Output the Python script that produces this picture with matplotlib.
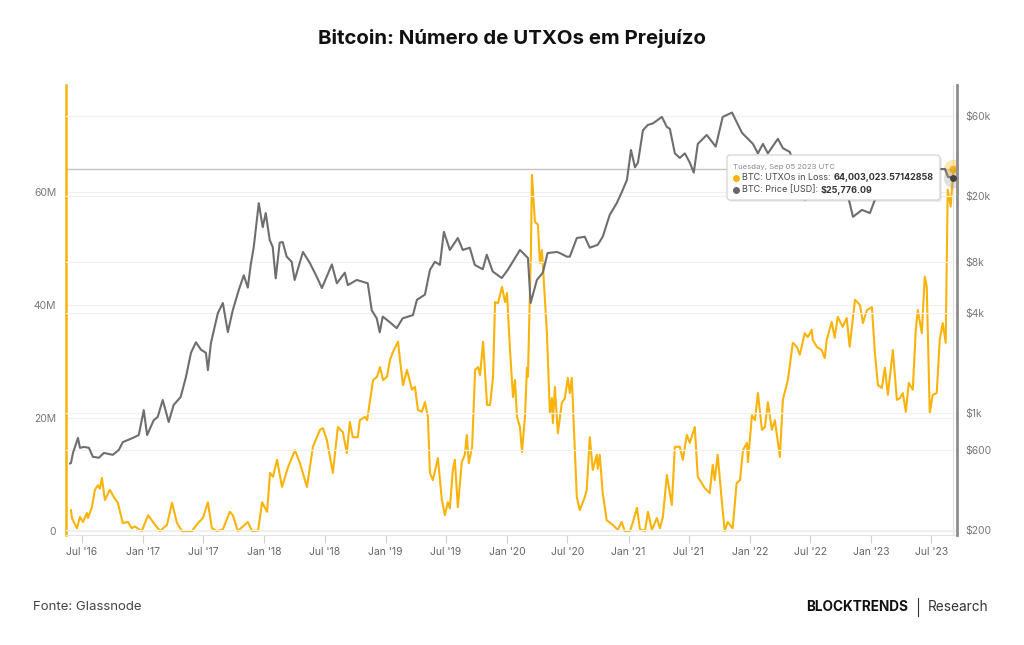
import matplotlib
matplotlib.use('Agg')
import matplotlib.pyplot as plt
import matplotlib.dates as mdates
import pandas as pd
from matplotlib.patches import FancyBboxPatch
from matplotlib.lines import Line2D
from matplotlib.transforms import IdentityTransform

plt.rcParams['font.family'] = ['Inter', 'DejaVu Sans']

# UTXOs in loss (millions)
utxo_dates = [
    '2016-05-29', '2016-06-01', '2016-06-07', '2016-06-16', '2016-06-25', '2016-07-04', '2016-07-16',
    '2016-07-19', '2016-07-31', '2016-08-09', '2016-08-18', '2016-08-24', '2016-08-30', '2016-09-08',
    '2016-09-23', '2016-10-05', '2016-10-17', '2016-11-01', '2016-11-16', '2016-11-28', '2016-12-07',
    '2016-12-28', '2017-01-16', '2017-02-06', '2017-02-21', '2017-03-14', '2017-03-29', '2017-04-13',
    '2017-04-28', '2017-05-28', '2017-06-15', '2017-06-30', '2017-07-15', '2017-07-27', '2017-08-11',
    '2017-08-29', '2017-09-19', '2017-09-28', '2017-10-13', '2017-11-12', '2017-11-25', '2017-12-13',
    '2017-12-25', '2018-01-09', '2018-01-18', '2018-01-27', '2018-02-08', '2018-02-23', '2018-03-13',
    '2018-04-03', '2018-04-18', '2018-05-09', '2018-05-27', '2018-06-17', '2018-06-26', '2018-07-08',
    '2018-07-26', '2018-08-10', '2018-08-25', '2018-09-06', '2018-09-15', '2018-09-24', '2018-10-09',
    '2018-10-15', '2018-10-31', '2018-11-06', '2018-11-24', '2018-12-06', '2018-12-15', '2018-12-24',
    '2019-01-05', '2019-01-14', '2019-01-23', '2019-02-07', '2019-02-13', '2019-02-22', '2019-03-06',
    '2019-03-21', '2019-03-30', '2019-04-08', '2019-04-20', '2019-04-29', '2019-05-08', '2019-05-14',
    '2019-05-23', '2019-06-07', '2019-06-19', '2019-06-28', '2019-07-07', '2019-07-13', '2019-07-22',
    '2019-07-28', '2019-08-06', '2019-08-18', '2019-08-27', '2019-09-02', '2019-09-08', '2019-09-18',
    '2019-09-27', '2019-10-06', '2019-10-12', '2019-10-21', '2019-11-02', '2019-11-11', '2019-11-20',
    '2019-11-26', '2019-12-05', '2019-12-17', '2019-12-26', '2020-01-01', '2020-01-10', '2020-01-19',
    '2020-01-25', '2020-01-31', '2020-02-09', '2020-02-15', '2020-02-24', '2020-03-01', '2020-03-04',
    '2020-03-13', '2020-03-16', '2020-03-25', '2020-04-03', '2020-04-09', '2020-04-15', '2020-04-18',
    '2020-04-30', '2020-05-09', '2020-05-15', '2020-05-18', '2020-05-24', '2020-06-02', '2020-06-14',
    '2020-06-23', '2020-07-02', '2020-07-08', '2020-07-14', '2020-07-29', '2020-08-07', '2020-08-22',
    '2020-08-28', '2020-09-06', '2020-09-15', '2020-09-27', '2020-09-30', '2020-10-06', '2020-10-15',
    '2020-10-27', '2020-11-14', '2020-11-29', '2020-12-11', '2020-12-20', '2021-01-05', '2021-01-14',
    '2021-01-26', '2021-02-04', '2021-02-19', '2021-02-28', '2021-03-12', '2021-03-27', '2021-04-05',
    '2021-04-14', '2021-04-26', '2021-05-11', '2021-05-20', '2021-06-04', '2021-06-13', '2021-06-25',
    '2021-07-04', '2021-07-19', '2021-07-28', '2021-08-18', '2021-09-02', '2021-09-11', '2021-09-17',
    '2021-09-26', '2021-10-08', '2021-10-17', '2021-10-26', '2021-11-10', '2021-11-22', '2021-12-02',
    '2021-12-11', '2021-12-23', '2021-12-26', '2022-01-07', '2022-01-16', '2022-01-25', '2022-02-06',
    '2022-02-15', '2022-02-24', '2022-03-08', '2022-03-17', '2022-04-01', '2022-04-10', '2022-04-25',
    '2022-05-10', '2022-05-22', '2022-05-31', '2022-06-15', '2022-06-24', '2022-07-06', '2022-07-09',
    '2022-07-21', '2022-08-05', '2022-08-14', '2022-08-20', '2022-09-04', '2022-09-13', '2022-09-22',
    '2022-10-07', '2022-10-19', '2022-10-28', '2022-11-13', '2022-11-28', '2022-12-07', '2022-12-19',
    '2023-01-03', '2023-01-12', '2023-01-21', '2023-02-02', '2023-02-11', '2023-02-20', '2023-03-07',
    '2023-03-19', '2023-03-28', '2023-04-06', '2023-04-15', '2023-04-24', '2023-05-06', '2023-05-15',
    '2023-05-21', '2023-06-02', '2023-06-11', '2023-06-17', '2023-06-26', '2023-07-05', '2023-07-17',
    '2023-07-26', '2023-08-04', '2023-08-13', '2023-08-19', '2023-08-28', '2023-09-05',
]
utxo_vals = [
    3.7, 2.3, 1.5, 0.5, 2.5, 1.6, 3.2,
    2.3, 4.2, 7.3, 8.1, 7.5, 9.4, 5.5,
    7.3, 6.0, 5.0, 1.4, 1.6, 0.5, 0.8,
    0.0, 2.8, 1.1, 0.0, 1.1, 5.0, 1.4,
    0.0, 0.0, 1.4, 2.3, 5.1, 0.5, 0.0,
    0.3, 3.4, 2.8, 0.0, 1.6, 0.0, 0.1,
    5.1, 3.4, 10.3, 9.6, 12.6, 7.8, 11.3,
    14.3, 12.0, 7.8, 14.9, 17.9, 18.2, 16.1,
    10.3, 18.4, 17.5, 13.8, 19.3, 16.6, 16.6,
    19.6, 20.2, 19.6, 26.7, 27.3, 29.0, 26.7,
    27.3, 30.3, 31.7, 33.5, 30.3, 25.8, 28.5,
    25.0, 25.5, 21.4, 21.1, 22.8, 20.2, 10.3,
    9.0, 12.9, 5.5, 2.8, 5.1, 4.0, 10.8,
    12.6, 4.2, 12.2, 13.5, 17.0, 12.0, 14.9,
    28.5, 29.0, 27.6, 33.5, 22.3, 22.3, 27.3,
    40.5, 40.3, 43.2, 40.5, 42.1, 32.0, 23.7,
    26.7, 20.2, 18.4, 14.0, 20.2, 28.9, 27.3,
    49.7, 63.0, 54.7, 54.2, 47.4, 49.7, 47.0,
    35.0, 20.9, 23.5, 19.1, 25.5, 17.3, 22.7,
    23.5, 27.1, 24.4, 27.1, 6.0, 3.7, 6.0,
    7.3, 16.6, 10.8, 13.5, 11.0, 13.5, 6.7,
    1.9, 1.1, 0.2, 1.6, 0.0, 0.0, 1.6,
    4.1, 0.3, 0.0, 3.4, 0.2, 2.3, 0.5,
    2.5, 9.9, 4.6, 14.9, 14.9, 12.6, 17.0,
    15.6, 18.4, 9.6, 7.6, 6.7, 11.7, 9.0,
    13.5, 5.5, 0.0, 1.6, 0.5, 8.5, 9.0,
    14.3, 15.6, 12.2, 20.5, 19.6, 24.4, 17.9,
    18.4, 22.8, 17.9, 19.6, 13.1, 23.2, 26.7,
    33.3, 32.6, 31.2, 35.0, 34.3, 35.6, 33.8,
    32.6, 32.0, 30.6, 33.8, 37.0, 34.2, 37.9,
    36.1, 37.7, 32.6, 40.9, 40.0, 36.8, 39.1,
    39.6, 31.5, 25.8, 25.3, 28.9, 24.1, 32.0,
    23.2, 23.5, 24.4, 21.1, 26.2, 25.0, 35.6,
    39.1, 35.0, 45.0, 43.2, 20.9, 24.1, 24.4,
    33.8, 36.8, 33.3, 60.4, 57.4, 64.0,
]

# BTC price (USD)
price_dates = [
    '2016-05-26', '2016-05-29', '2016-06-04', '2016-06-19', '2016-06-25', '2016-07-07', '2016-07-22',
    '2016-08-03', '2016-08-21', '2016-09-05', '2016-10-02', '2016-10-20', '2016-11-01', '2016-12-01',
    '2016-12-19', '2017-01-03', '2017-01-13', '2017-02-02', '2017-02-14', '2017-03-01', '2017-03-19',
    '2017-04-03', '2017-04-24', '2017-05-10', '2017-05-25', '2017-06-09', '2017-06-24', '2017-07-09',
    '2017-07-15', '2017-07-24', '2017-08-14', '2017-08-29', '2017-09-13', '2017-09-28', '2017-10-16',
    '2017-10-31', '2017-11-12', '2017-11-21', '2017-11-30', '2017-12-15', '2017-12-27', '2018-01-05',
    '2018-01-17', '2018-01-26', '2018-02-04', '2018-02-16', '2018-02-25', '2018-03-09', '2018-03-24',
    '2018-04-02', '2018-04-27', '2018-05-18', '2018-06-08', '2018-06-23', '2018-07-23', '2018-08-07',
    '2018-08-31', '2018-09-09', '2018-10-06', '2018-11-08', '2018-11-20', '2018-12-05', '2018-12-14',
    '2018-12-23', '2019-01-14', '2019-02-03', '2019-02-21', '2019-03-24', '2019-04-05', '2019-04-29',
    '2019-05-14', '2019-05-29', '2019-06-13', '2019-06-25', '2019-07-13', '2019-08-06', '2019-08-21',
    '2019-09-11', '2019-09-26', '2019-10-20', '2019-11-01', '2019-11-19', '2019-12-16', '2020-01-03',
    '2020-02-09', '2020-03-04', '2020-03-12', '2020-03-31', '2020-04-18', '2020-05-02', '2020-05-30',
    '2020-06-08', '2020-06-29', '2020-07-08', '2020-07-29', '2020-08-22', '2020-09-06', '2020-09-30',
    '2020-10-15', '2020-11-05', '2020-11-26', '2020-12-11', '2020-12-27', '2021-01-08', '2021-01-20',
    '2021-01-29', '2021-02-13', '2021-02-28', '2021-03-15', '2021-04-11', '2021-04-26', '2021-05-05',
    '2021-05-20', '2021-06-04', '2021-06-19', '2021-07-04', '2021-07-16', '2021-07-28', '2021-08-24',
    '2021-09-20', '2021-10-11', '2021-11-08', '2021-12-08', '2022-01-10', '2022-01-25', '2022-02-09',
    '2022-02-24', '2022-03-26', '2022-04-10', '2022-05-01', '2022-05-16', '2022-06-16', '2022-07-10',
    '2022-07-31', '2022-08-30', '2022-09-29', '2022-10-23', '2022-11-07', '2022-12-04', '2022-12-28',
    '2023-01-12', '2023-01-27', '2023-02-26', '2023-03-13', '2023-03-28', '2023-04-27', '2023-05-21',
    '2023-06-12', '2023-07-27', '2023-08-11', '2023-08-20', '2023-09-05',
]
price_vals = [
    500, 503, 578, 711, 620, 628, 620,
    548, 541, 578, 563, 603, 671, 711,
    740, 1043, 740, 908, 950, 1200, 886,
    1120, 1250, 1650, 2300, 2660, 2400, 2300,
    1810, 2630, 3980, 4570, 3060, 4150, 5480,
    6700, 5650, 7780, 9900, 18100, 13000, 15800,
    10900, 9900, 6420, 10500, 10600, 8660, 8070,
    6280, 9240, 7920, 6530, 5620, 7780, 6000,
    6940, 5850, 6280, 6000, 4130, 3700, 3050,
    3790, 3500, 3230, 3700, 3870, 4780, 5130,
    7200, 8070, 7730, 12200, 9500, 11200, 9500,
    9800, 7730, 7280, 8900, 7060, 6450, 7200,
    9500, 8500, 4570, 6280, 6960, 9100, 9240,
    9100, 8660, 8660, 11200, 11400, 9800, 10200,
    11400, 15400, 18100, 21000, 25000, 37700, 29700,
    31700, 49500, 53300, 54400, 59500, 51800, 50500,
    36000, 33800, 36000, 31700, 27600, 41000, 46400,
    39500, 59500, 63200, 47800, 41000, 36000, 41000,
    36000, 44000, 38700, 36700, 30000, 19000, 21500,
    23500, 20000, 19500, 20000, 15000, 16500, 15800,
    19000, 23000, 23500, 20500, 28000, 29000, 26000,
    30000, 29000, 29000, 26000, 25776,
]

x_ticks = pd.date_range('2016-07-01', '2023-07-01', freq='6MS')
left_ticks = [0, 20, 40, 60]
right_ticks = [200, 600, 1000, 4000, 8000, 20000, 60000]
right_labels = ['$200', '$600', '$1k', '$4k', '$8k', '$20k', '$60k']

ORANGE = '#f9b30b'
GREY = '#6e6e6e'

W, H = 1024, 645
def fx(x):
    return x / W
def fy(y):
    return 1 - y / H

utxo_d = pd.to_datetime(utxo_dates)
price_d = pd.to_datetime(price_dates)

fig = plt.figure(figsize=(W / 100, H / 100), dpi=100)
fig.patch.set_facecolor('white')
ax = fig.add_axes([fx(66), fy(535), (957 - 66) / W, (535 - 85) / H])
ax2 = ax.twinx()

ax.plot(utxo_d, utxo_vals, color=ORANGE, lw=1.5, zorder=3)
ax2.plot(price_d, price_vals, color=GREY, lw=1.5, zorder=3)

ax.set_xlim(pd.Timestamp('2016-05-14'), pd.Timestamp('2023-09-16'))
ax.set_ylim(-0.7, 78.9)
ax2.set_yscale('log')
ax2.set_ylim(186.4, 92400)

ax.set_xticks(x_ticks)
ax.xaxis.set_major_formatter(mdates.DateFormatter("%b '%y"))
ax.tick_params(axis='x', colors='#cfcfcf', length=6, width=0.8, labelsize=7.5,
               labelcolor='#666666', pad=2.5)

ax.set_yticks(left_ticks)
ax.set_yticklabels(['0' if v == 0 else '%dM' % v for v in left_ticks])
ax.tick_params(axis='y', length=0, labelsize=7.5, labelcolor='#777777', pad=7)

ax2.set_yticks(right_ticks)
ax2.set_yticklabels(right_labels)
ax2.yaxis.set_minor_locator(matplotlib.ticker.NullLocator())
ax2.tick_params(axis='y', length=0, labelsize=7.5, labelcolor='#777777', pad=6)

ax.grid(axis='y', color='#f0f0f0', lw=0.9, zorder=0)
ax2.grid(axis='y', color='#f0f0f0', lw=0.9, zorder=0)

for s in ['top', 'right']:
    ax.spines[s].set_visible(False)
ax.spines['left'].set_color(ORANGE)
ax.spines['left'].set_linewidth(1.8)
ax.spines['bottom'].set_color('#e4e4e4')
for s in ['top', 'left', 'bottom']:
    ax2.spines[s].set_visible(False)
ax2.spines['right'].set_color('#8d8d8d')
ax2.spines['right'].set_linewidth(2)

# hover crosshair
last_d = utxo_d[-1]
ax.plot([ax.get_xlim()[0], mdates.date2num(last_d)], [utxo_vals[-1], utxo_vals[-1]],
        color='#c4c4c4', lw=1, zorder=2)
ax.axvline(last_d, color='#e2e2e2', lw=0.9, zorder=1)

# hover markers
ax2.plot([last_d], [price_vals[-1]], 'o', ms=14, color='#9a9a9a', alpha=0.3, mec='none', zorder=5)
ax2.plot([last_d], [price_vals[-1]], 'o', ms=4, color='#444444', zorder=6)
ax.plot([last_d], [utxo_vals[-1]], 'o', ms=14, color=ORANGE, alpha=0.3, mec='none', zorder=5)
ax.plot([last_d], [utxo_vals[-1]], 'o', ms=4.5, color=ORANGE, zorder=6)

# tooltip
shadow = FancyBboxPatch((729, H - 202), 213, 45, boxstyle='round,pad=0,rounding_size=3',
                        transform=IdentityTransform(), facecolor='#000000', alpha=0.08,
                        edgecolor='none', zorder=10)
box = FancyBboxPatch((727, H - 200), 213, 45, boxstyle='round,pad=0,rounding_size=3',
                     transform=IdentityTransform(), facecolor='white', edgecolor='#cfcfcf',
                     lw=0.8, zorder=11)
fig.patches.extend([shadow, box])
fig.text(fx(733), fy(167), 'Tuesday, Sep 05 2023 UTC', fontsize=5.6, color='#8a8a8a',
         va='center', zorder=12)
fig.add_artist(Line2D([fx(736)], [fy(178)], marker='o', ms=4, color=ORANGE, zorder=12))
fig.add_artist(Line2D([fx(736)], [fy(190)], marker='o', ms=4, color='#666666', zorder=12))
t1 = fig.text(fx(742), fy(178), 'BTC: UTXOs in Loss: ', fontsize=6.5, color='#444444',
              va='center', zorder=12)
fig.add_artist(plt.Annotation('64,003,023.57142858', xy=(1, 0.5), xycoords=t1, va='center',
                              fontsize=6.5, fontweight='bold', color='#333333', zorder=12))
t2 = fig.text(fx(742), fy(190), 'BTC: Price [USD]: ', fontsize=6.5, color='#444444',
              va='center', zorder=12)
fig.add_artist(plt.Annotation('$25,776.09', xy=(1, 0.5), xycoords=t2, va='center',
                              fontsize=6.5, fontweight='bold', color='#333333', zorder=12))

# title and footer
fig.text(0.5, fy(38), 'Bitcoin: Número de UTXOs em Prejuízo', ha='center', va='center',
         fontsize=14.7, fontweight='bold', color='#111111')
fig.text(fx(33), fy(607), 'Fonte: Glassnode', ha='left', va='center', fontsize=9.5,
         color='#444444')
fig.text(fx(908), fy(607), 'BLOCKTRENDS', ha='right', va='center', fontsize=9.8,
         fontweight='bold', color='#111111')
fig.add_artist(Line2D([fx(918), fx(918)], [fy(598), fy(616)], color='#333333', lw=0.8))
fig.text(fx(928), fy(607), 'Research', ha='left', va='center', fontsize=9.8, color='#333333')

fig.savefig('out.png', dpi=100, facecolor='white')
